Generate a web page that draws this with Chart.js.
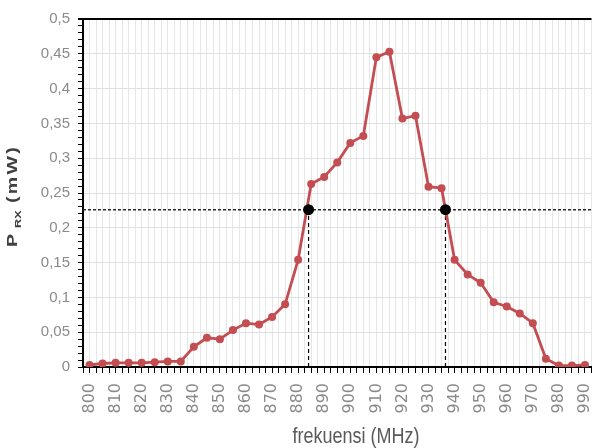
<!DOCTYPE html>
<html>
<head>
<meta charset="utf-8">
<script src="https://cdn.jsdelivr.net/npm/chart.js@4.4.1/dist/chart.umd.min.js"></script>
<style>
html,body{margin:0;padding:0;background:#fff;}
#wrap{width:597px;height:448px;}
</style>
</head>
<body>
<div id="wrap"><canvas id="chart" width="597" height="448"></canvas></div>
<script>
// measured receive power vs frequency
const freqMHz = [800,805,810,815,820,825,830,835,840,845,850,855,860,865,870,875,880,885,890,895,
                 900,905,910,915,920,925,930,935,940,945,950,955,960,965,970,975,980,985,990];
const powerMw = [0.003,0.005,0.006,0.006,0.006,0.007,0.008,0.008,0.029,0.042,0.040,0.053,0.063,0.061,0.072,0.090,0.154,0.263,0.273,0.294,
                 0.322,0.332,0.445,0.453,0.357,0.361,0.259,0.257,0.154,0.133,0.121,0.093,0.087,0.077,0.063,0.012,0.002,0.002,0.003];

// half power level and where the curve crosses it
const halfPowerLevel = 0.226;
const halfPowerFreq = [884, 936.5];

const xRange = [797.5, 992.5];
const yRange = [0, 0.5];

const SANS = "'Liberation Sans',Arial,sans-serif";
const RED = '#c44d52';

const pts = freqMHz.map((f,i)=>({x:f,y:powerMw[i]}));

const datasets = [
  {data:halfPowerFreq.map(f=>({x:f,y:halfPowerLevel})),showLine:false,pointRadius:5.5,pointBackgroundColor:'#000',pointBorderWidth:0,order:0},
  {data:pts,borderColor:RED,backgroundColor:RED,borderWidth:2.8,pointRadius:4,pointBorderWidth:0,pointBackgroundColor:RED,order:1},
  {data:xRange.map(x=>({x,y:halfPowerLevel})),borderColor:'#2a2a2a',borderWidth:1.5,borderDash:[3,2],pointRadius:0,order:2}
];
halfPowerFreq.forEach(f=>{
  datasets.push({data:[{x:f,y:0},{x:f,y:halfPowerLevel}],borderColor:'#000',borderWidth:1.2,borderDash:[4,3],pointRadius:0,order:2});
});

// axis titles (the y one needs a subscript)
const titles = {
  id:'titles',
  afterDraw(chart){
    const ctx = chart.ctx;
    ctx.save();
    ctx.translate(356, 437);
    ctx.scale(1, 1.2);
    ctx.fillStyle = '#595959';
    ctx.font = "18px " + SANS;
    ctx.textAlign = 'center';
    ctx.textBaseline = 'middle';
    ctx.fillText('frekuensi (MHz)', 0, 0);
    ctx.restore();

    ctx.save();
    ctx.translate(17, 247);
    ctx.rotate(-Math.PI/2);
    ctx.scale(1.4, 1);
    ctx.textAlign = 'left';
    ctx.textBaseline = 'alphabetic';
    ctx.fillStyle = '#404040';
    ctx.font = "bold 14px " + SANS;
    ctx.fillText('P', 0, 0);
    ctx.font = "bold 9px " + SANS;
    ctx.fillText('RX', 13.6, 4);
    ctx.font = "bold 14px " + SANS;
    let x = 31.4;
    for (const ch of '(mW)') {
      ctx.fillText(ch, x, 0);
      x += ctx.measureText(ch).width + 1.6;
    }
    ctx.restore();
  }
};

new Chart(document.getElementById('chart'), {
  type:'line',
  data:{datasets},
  plugins:[titles],
  options:{
    responsive:false,
    animation:false,
    devicePixelRatio:1,
    layout:{padding:{top:19,right:2,left:0,bottom:0}},
    plugins:{legend:{display:false},tooltip:{enabled:false}},
    scales:{
      x:{
        type:'linear', min:xRange[0], max:xRange[1],
        afterFit(s){ s.height = 81; s.paddingLeft = 0; s.paddingRight = 0; },
        ticks:{
          stepSize:2.5, autoSkip:false, minRotation:90, maxRotation:90, padding:10,
          color:'#8a8a8a', font:{family:"'DejaVu Sans',sans-serif",size:16},
          callback:v=>Math.abs(v % 10) < 1e-6 ? String(v) : ''
        },
        grid:{color:'#e6e6e6',lineWidth:1,tickColor:'#000',tickLength:6},
        border:{color:'#000',width:2}
      },
      y:{
        min:yRange[0], max:yRange[1],
        afterFit(s){ s.width = 83; s.paddingTop = 0; s.paddingBottom = 0; },
        ticks:{
          stepSize:0.01, autoSkip:false, padding:8,
          color:'#8a8a8a', font:{family:SANS,size:15},
          callback:v=>{
            const k = Math.round(v*100);
            return k % 5 === 0 ? String(k/100).replace('.', ',') : '';
          }
        },
        grid:{
          color:c=>{
            const k = Math.round(c.tick.value*100);
            if (k === 50) return '#000';
            return k % 5 === 0 ? '#e0e0e0' : 'rgba(0,0,0,0)';
          },
          lineWidth:c=>Math.round(c.tick.value*100) === 50 ? 2 : 1,
          tickColor:'#000', tickLength:5
        },
        border:{color:'#000',width:2}
      }
    }
  }
});
</script>
</body>
</html>
